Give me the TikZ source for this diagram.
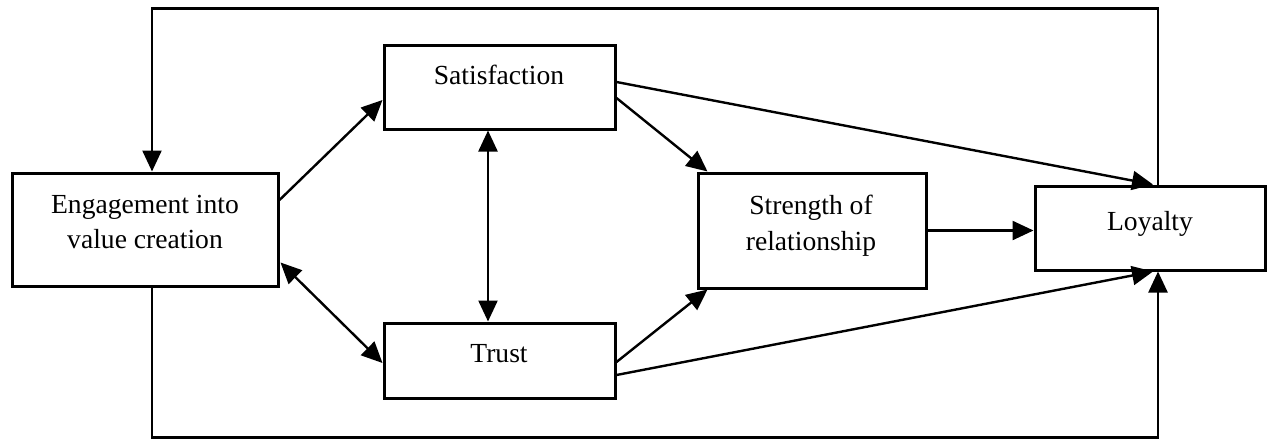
\documentclass[tikz,border=0pt]{standalone}
\usepackage{fontspec}
\setmainfont{Liberation Serif}
\usetikzlibrary{arrows.meta,calc}
\begin{document}
\begin{tikzpicture}[x=0.5pt,y=-0.5pt,
  box/.style={draw,line width=1.5pt,inner sep=0pt,fill=white},
  lbl/.style={font=\fontsize{13.8}{17}\selectfont,inner sep=0pt,anchor=base},
  arr/.style={line width=1.2pt,-{Triangle[length=10.5pt,width=9.5pt]}},
  darr/.style={line width=1.2pt,{Triangle[length=10.5pt,width=9.5pt]}-{Triangle[length=10.5pt,width=9.5pt]}}
]
\useasboundingbox (0,0) rectangle (1273,439);
% boxes
\node[box,minimum width=133pt,minimum height=56.5pt] (eng) at (145,229.5) {};
\node[box,minimum width=115.5pt,minimum height=42pt] (sat) at (499.5,87) {};
\node[box,minimum width=115.5pt,minimum height=37.5pt] (trust) at (499.5,360.5) {};
\node[box,minimum width=114pt,minimum height=57.5pt] (str) at (812,230.5) {};
\node[box,minimum width=115pt,minimum height=42pt] (loy) at (1150,228) {};
% labels
\node[lbl] (engA) at (145,213) {Engagement into};
\node[lbl] (engB) at (145,248) {value creation};
\node[lbl] (satT) at (499,84) {Satisfaction};
\node[lbl] (trustT) at (499,362) {Trust};
\node[lbl] (strA) at (811,214) {Strength of};
\node[lbl] (strB) at (811,250) {relationship};
\node[lbl] (loyT) at (1150,230) {Loyalty};
% connectors
\draw[arr] ($(eng.east)+(0,-29.5)$) -- ($(sat.west)+(0,13)$);
\draw[darr] ($(eng.east)+(1,33)$) -- ($(trust.west)+(0,2.5)$);
\draw[darr] ($(sat.south)+(-11.5,0)$) -- ($(trust.north)+(-11.5,0)$);
\draw[arr] ($(sat.east)+(0,11)$) -- ($(str.north west)+(11,0)$);
\draw[arr] ($(sat.east)+(0,-5)$) -- ($(loy.north)+(3,0)$);
\draw[arr] (str.east) -- (str.east -| loy.west);
\draw[arr] ($(trust.east)+(0,1.5)$) -- ($(str.south west)+(11,0)$);
\draw[arr] ($(trust.east)+(0,14.5)$) -- ($(loy.south)+(3,0)$);
\draw[arr] ($(loy.north)+(8,0)$) -- ++(0,-176) -| ($(eng.north)+(7,0)$);
\draw[arr] ($(eng.south)+(7,0)$) -- ++(0,150) -| ($(loy.south)+(8,0)$);
\end{tikzpicture}
\end{document}
